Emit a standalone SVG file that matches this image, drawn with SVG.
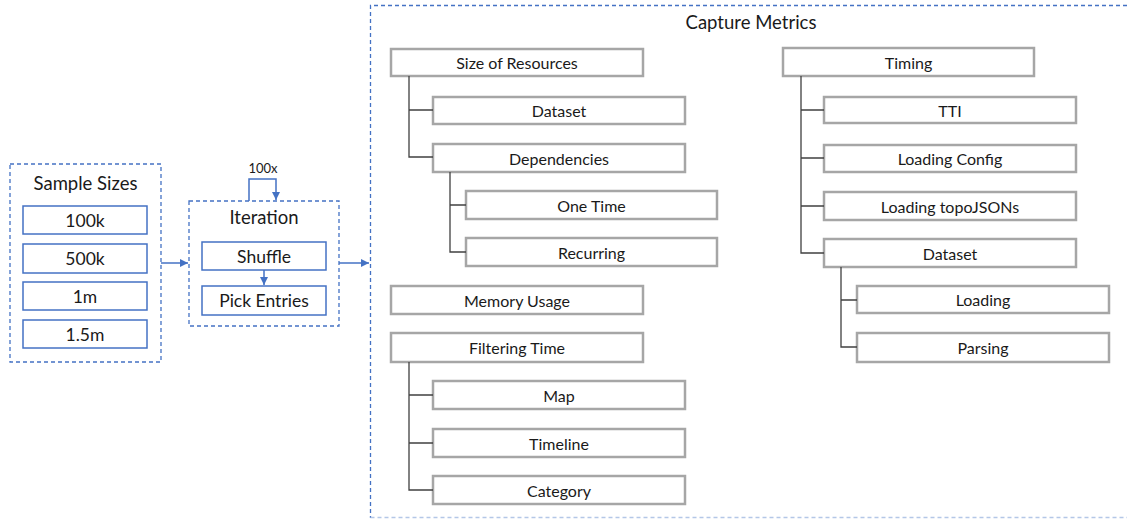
<svg xmlns="http://www.w3.org/2000/svg" width="1127" height="519" viewBox="0 0 1127 519">
<defs>
<style>
.dash{fill:none;stroke:#4472C4;stroke-width:1.3;stroke-dasharray:4 3}
.dashlt{fill:none;stroke:#B4C7E7;stroke-width:1.3;stroke-dasharray:4 3}
.bbox{fill:#fff;stroke:#4472C4;stroke-width:1.5}
.gbox{fill:#fff;stroke:#A6A6A6;stroke-width:2.5}
.tree{fill:none;stroke:#404040;stroke-width:1.3}
.conn{fill:none;stroke:#4472C4;stroke-width:1.5}
text{font-family:Lato,"Liberation Sans",sans-serif;fill:#1a1a1a;text-anchor:middle;dominant-baseline:central}
.t15{font-size:16px}
.t17{font-size:17.5px}
.t18{font-size:18.5px}
.t13{font-size:13px}
</style>
<marker id="ah" markerWidth="9" markerHeight="9" refX="8" refY="4.5" orient="auto" markerUnits="userSpaceOnUse">
<path d="M0,0.5 L8,4.5 L0,8.5 Z" fill="#4472C4"/>
</marker>
</defs>
<rect width="1127" height="519" fill="#fff"/>

<g id="sample-sizes">
<rect class="dash" x="10" y="164" width="151" height="198"/>
<text class="t18" x="85.5" y="183">Sample Sizes</text>
<rect class="bbox" x="23" y="206" width="124" height="28"/>
<text class="t17" x="85" y="220">100k</text>
<rect class="bbox" x="23" y="244" width="124" height="29"/>
<text class="t17" x="85" y="258.5">500k</text>
<rect class="bbox" x="23" y="282" width="124" height="28"/>
<text class="t17" x="85" y="296">1m</text>
<rect class="bbox" x="23" y="320" width="124" height="28"/>
<text class="t17" x="85" y="334">1.5m</text>
</g>

<g id="iteration">
<rect class="dash" x="189" y="201" width="150" height="125"/>
<text class="t18" x="264" y="217">Iteration</text>
<rect class="bbox" x="202" y="242" width="124" height="28"/>
<text class="t17" x="264" y="256">Shuffle</text>
<rect class="bbox" x="202" y="286" width="124" height="29"/>
<text class="t17" x="264" y="300.5">Pick Entries</text>
</g>

<g id="capture-metrics">
<path class="dash" d="M1127,5.5 H370.5 V518"/>
<path class="dashlt" d="M370.5,517.5 H1127"/>
<text class="t18" x="751" y="22">Capture Metrics</text>
</g>

<g id="size-of-resources"><rect class="gbox" x="391" y="49" width="252" height="27"/><text class="t15" x="517" y="62.5">Size of Resources</text></g>
<g id="sr-dataset"><rect class="gbox" x="433" y="97" width="252" height="27"/><text class="t15" x="559" y="110.5">Dataset</text></g>
<g id="dependencies"><rect class="gbox" x="433" y="144" width="252" height="28"/><text class="t15" x="559" y="158">Dependencies</text></g>
<g id="one-time"><rect class="gbox" x="466" y="191" width="251" height="28"/><text class="t15" x="591.5" y="205">One Time</text></g>
<g id="recurring"><rect class="gbox" x="466" y="238" width="251" height="28"/><text class="t15" x="591.5" y="252">Recurring</text></g>
<g id="memory-usage"><rect class="gbox" x="391" y="286" width="252" height="28"/><text class="t15" x="517" y="300">Memory Usage</text></g>
<g id="filtering-time"><rect class="gbox" x="391" y="333" width="252" height="29"/><text class="t15" x="517" y="347.5">Filtering Time</text></g>
<g id="map"><rect class="gbox" x="433" y="381" width="252" height="28"/><text class="t15" x="559" y="395">Map</text></g>
<g id="timeline"><rect class="gbox" x="433" y="429" width="252" height="28"/><text class="t15" x="559" y="443">Timeline</text></g>
<g id="category"><rect class="gbox" x="433" y="476" width="252" height="28"/><text class="t15" x="559" y="490">Category</text></g>

<g id="timing"><rect class="gbox" x="783" y="48" width="251" height="28"/><text class="t15" x="908.5" y="62">Timing</text></g>
<g id="tti"><rect class="gbox" x="824" y="97" width="252" height="26"/><text class="t15" x="950" y="110">TTI</text></g>
<g id="loading-config"><rect class="gbox" x="824" y="145" width="252" height="27"/><text class="t15" x="950" y="158.5">Loading Config</text></g>
<g id="loading-topojsons"><rect class="gbox" x="824" y="192" width="252" height="28"/><text class="t15" x="950" y="206">Loading topoJSONs</text></g>
<g id="t-dataset"><rect class="gbox" x="824" y="239" width="252" height="28"/><text class="t15" x="950" y="253">Dataset</text></g>
<g id="loading"><rect class="gbox" x="857" y="286" width="252" height="27"/><text class="t15" x="983" y="299.5">Loading</text></g>
<g id="parsing"><rect class="gbox" x="857" y="333" width="252" height="29"/><text class="t15" x="983" y="347.5">Parsing</text></g>

<g id="connectors">
<path class="conn" d="M161,263 H188" marker-end="url(#ah)"/>
<path class="conn" d="M339,263 H369" marker-end="url(#ah)"/>
<path class="conn" d="M264,270 V285" stroke-width="2" marker-end="url(#ah)"/>
<path class="conn" d="M249,201 V179 H276 V200" marker-end="url(#ah)"/>
<text class="t13" x="263" y="168">100x</text>
<path class="tree" d="M409,76 V157 H433 M409,110 H433"/>
<path class="tree" d="M450,172 V252 H466 M450,205 H466"/>
<path class="tree" d="M409,362 V490 H433 M409,395 H433 M409,443 H433"/>
<path class="tree" d="M801,76 V253 H824 M801,110 H824 M801,158 H824 M801,206 H824"/>
<path class="tree" d="M841,267 V347 H857 M841,300 H857"/>
</g>
</svg>
